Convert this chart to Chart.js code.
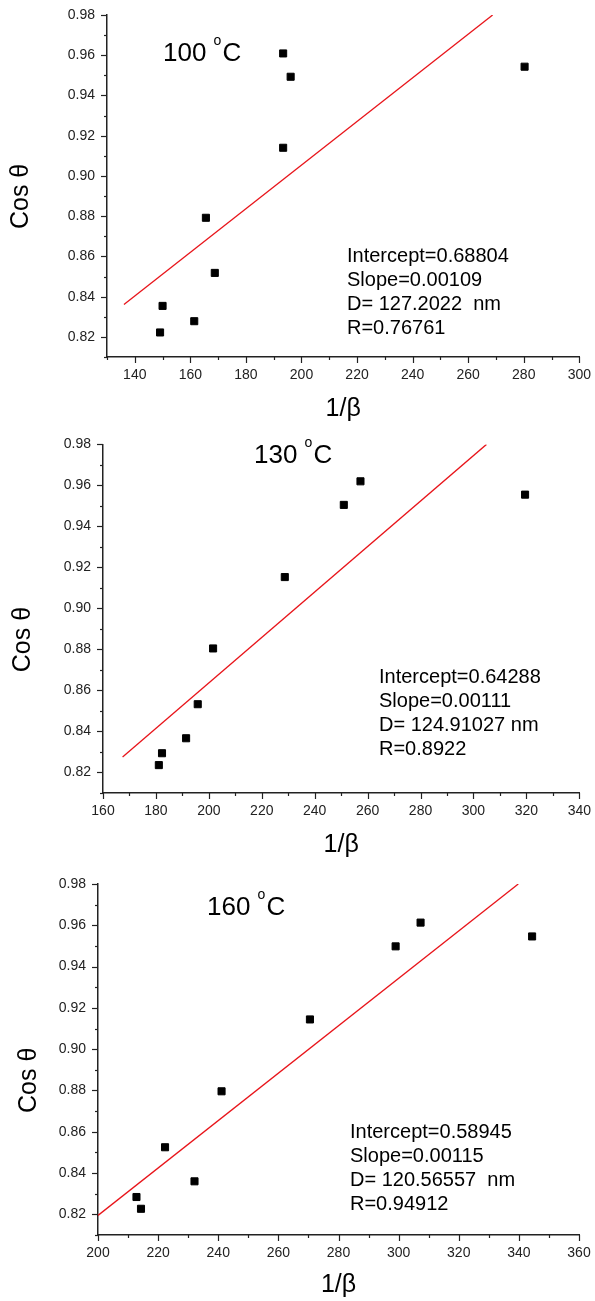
<!DOCTYPE html>
<html>
<head>
<meta charset="utf-8">
<script src="https://cdn.jsdelivr.net/npm/chart.js@4/dist/chart.umd.min.js"></script>
<style>
  body { margin: 0; background: #fff; }
  canvas { position: absolute; left: 0; }
</style>
</head>
<body>
<canvas id="c100" width="595" height="430" style="top:0"></canvas>
<canvas id="c130" width="595" height="430" style="top:430px"></canvas>
<canvas id="c160" width="595" height="441" style="top:860px"></canvas>
<script>
// 100 C
const x100 = [149.1, 150.0, 161.4, 165.6, 168.8, 193.4, 193.4, 196.1, 280.3];
const y100 = [0.8222, 0.8354, 0.8278, 0.8792, 0.8518, 0.9609, 0.9140, 0.9493, 0.9543];
const fitX100 = [136.1, 268.8];
const fitY100 = [0.8361, 0.98];
const stats100 = ["Intercept=0.68804", "Slope=0.00109", "D= 127.2022  nm", "R=0.76761"];

// 130 C
const x130 = [181.1, 182.3, 191.4, 195.8, 201.6, 228.7, 251.0, 257.3, 319.5];
const y130 = [0.8236, 0.8294, 0.8367, 0.8533, 0.8805, 0.9153, 0.9505, 0.9620, 0.9555];
const fitX130 = [167.4, 304.9];
const fitY130 = [0.8276, 0.98];
const stats130 = ["Intercept=0.64288", "Slope=0.00111", "D= 124.91027 nm", "R=0.8922"];

// 160 C
const x160 = [212.8, 214.3, 222.3, 232.1, 241.1, 270.5, 299.0, 307.3, 344.4];
const y160 = [0.8284, 0.8227, 0.8525, 0.8360, 0.8796, 0.9144, 0.9498, 0.9613, 0.9546];
const fitX160 = [200, 339.8];
const fitY160 = [0.8195, 0.98];
const stats160 = ["Intercept=0.58945", "Slope=0.00115", "D= 120.56557  nm", "R=0.94912"];

const FONT = "'Liberation Sans', Arial, sans-serif";
const NB = "\u00a0";

// small major/minor tick marks outside the axes
const tickMarks = {
  id: "tickMarks",
  afterDraw(chart) {
    const ctx = chart.ctx;
    const xs = chart.scales.x, ys = chart.scales.y;
    ctx.save();
    ctx.strokeStyle = "#222";
    ctx.lineWidth = 1.2;
    xs.ticks.forEach(t => {
      const px = Math.round(xs.getPixelForValue(t.value)) + 0.5;
      const len = Math.round(t.value) % 20 === 0 ? 6 : 3;
      ctx.beginPath();
      ctx.moveTo(px, xs.top);
      ctx.lineTo(px, xs.top + len);
      ctx.stroke();
    });
    ys.ticks.forEach(t => {
      const py = Math.round(ys.getPixelForValue(t.value)) + 0.5;
      const len = Math.round(t.value * 100) % 2 === 0 ? 6 : 3;
      ctx.beginPath();
      ctx.moveTo(ys.right, py);
      ctx.lineTo(ys.right - len, py);
      ctx.stroke();
    });
    ctx.restore();
  }
};

// temperature label and fit results
const notes = {
  id: "notes",
  afterDraw(chart, args, o) {
    const ctx = chart.ctx;
    ctx.save();
    ctx.fillStyle = "#000";
    ctx.textBaseline = "alphabetic";
    ctx.font = "26px " + FONT;
    ctx.fillText(o.temp, o.tx, o.ty);
    let w = ctx.measureText(o.temp + " ").width;
    ctx.font = "14px " + FONT;
    ctx.fillText("o", o.tx + w, o.ty - 16);
    w += ctx.measureText("o").width + 1;
    ctx.font = "26px " + FONT;
    ctx.fillText("C", o.tx + w, o.ty);
    ctx.font = "20px " + FONT;
    o.lines.forEach((s, i) => ctx.fillText(s, o.lx, o.ly + i * 24));
    ctx.restore();
  }
};

function makeChart(id, xs, ys, fx, fy, xMin, xMax, box, note) {
  const pts = xs.map((x, i) => ({ x: x, y: ys[i] }));
  const fit = fx.map((x, i) => ({ x: x, y: fy[i] }));
  return new Chart(document.getElementById(id), {
    type: "scatter",
    data: {
      datasets: [{
        data: pts,
        pointStyle: "rect",
        pointRadius: 5,
        backgroundColor: "#000",
        borderColor: "#000",
        borderWidth: 1
      }, {
        type: "line",
        data: fit,
        borderColor: "#e8141a",
        borderWidth: 1.3,
        pointRadius: 0,
        fill: false
      }]
    },
    options: {
      responsive: false,
      animation: false,
      layout: { padding: { top: box.top, right: box.right, left: 0, bottom: 0 } },
      plugins: { legend: { display: false }, tooltip: { enabled: false }, notes: note },
      scales: {
        x: {
          type: "linear",
          min: xMin, max: xMax,
          afterFit: s => { s.height = box.xh; },
          grid: { display: false, tickLength: 6 },
          border: { display: true, color: "#222", width: 1.5 },
          ticks: {
            stepSize: 10, autoSkip: false, maxRotation: 0, padding: 4,
            color: "#222", font: { family: FONT, size: 14 },
            callback: v => Math.round(v) % 20 === 0 ? String(Math.round(v)) : ""
          },
          title: {
            display: true, text: "1/β", color: "#000",
            font: { family: FONT, size: 25 },
            padding: { top: 0, bottom: box.xtp }
          }
        },
        y: {
          min: 0.81, max: 0.98,
          afterFit: s => { s.width = box.left; },
          grid: { display: false, tickLength: 6 },
          border: { display: true, color: "#222", width: 1.5 },
          ticks: {
            stepSize: 0.01, autoSkip: false, padding: 6,
            color: "#222", font: { family: FONT, size: 14 },
            callback: v => Math.round(v * 100) % 2 === 0 ? v.toFixed(2) : ""
          },
          title: {
            display: true, text: "Cos θ" + NB.repeat(box.ysp), color: "#000",
            font: { family: FONT, size: 25 },
            padding: { top: box.ytp, bottom: 0 }
          }
        }
      }
    },
    plugins: [tickMarks, notes]
  });
}

makeChart("c100", x100, y100, fitX100, fitY100, 130, 300,
  { left: 107, top: 15, right: 11, xh: 73, xtp: 6, ytp: 6, ysp: 3 },
  { temp: "100", tx: 163, ty: 61, lines: stats100, lx: 347, ly: 262 });

makeChart("c130", x130, y130, fitX130, fitY130, 160, 340,
  { left: 103, top: 14, right: 11, xh: 67, xtp: 0, ytp: 8, ysp: 6 },
  { temp: "130", tx: 254, ty: 33, lines: stats130, lx: 379, ly: 253 });

makeChart("c160", x160, y160, fitX160, fitY160, 200, 360,
  { left: 98, top: 24, right: 16, xh: 66, xtp: 1, ytp: 14, ysp: 6 },
  { temp: "160", tx: 207, ty: 55, lines: stats160, lx: 350, ly: 278 });
</script>
</body>
</html>
